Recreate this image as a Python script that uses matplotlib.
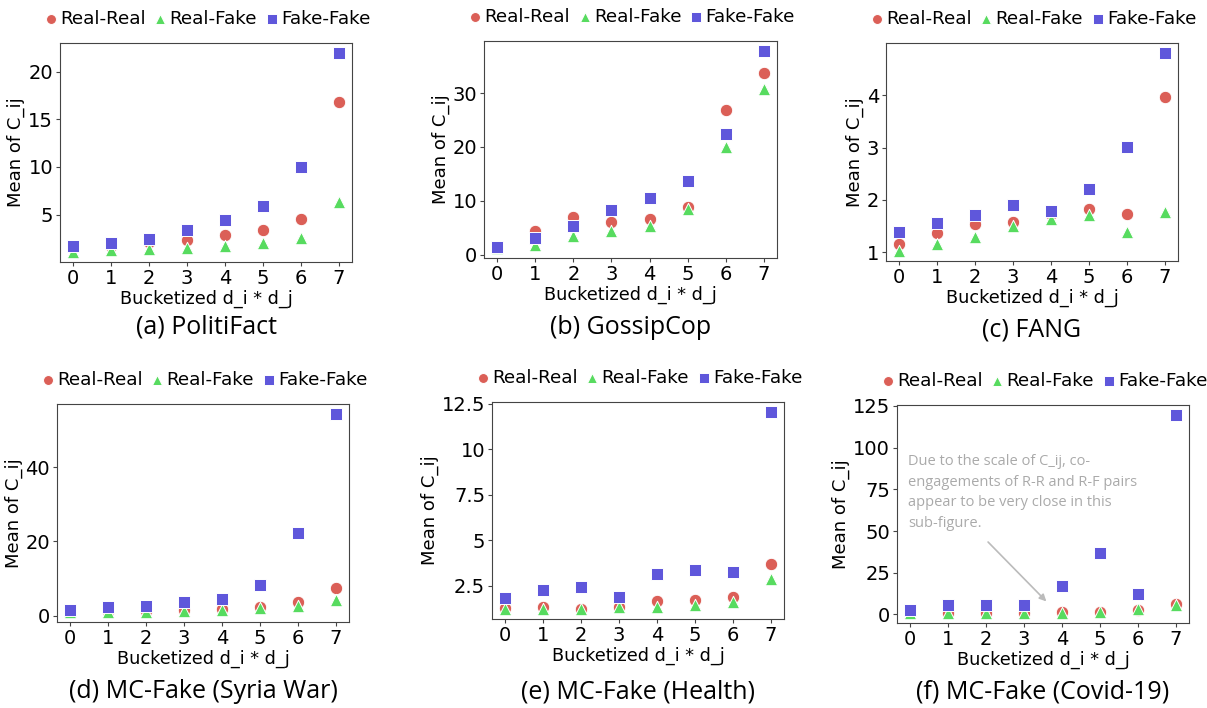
import matplotlib
matplotlib.use("Agg")
import matplotlib.pyplot as plt
from matplotlib.ticker import MultipleLocator, FormatStrFormatter
import numpy as np

# colours from the seaborn "hls" palette with 3 entries
c_rr = "#db5f57"
c_rf = "#57db5f"
c_ff = "#5f57db"

buckets = np.arange(8)

# (a) PolitiFact
pf_rr = [1.7, 1.65, 2.07, 2.28, 2.84, 3.4, 4.56, 16.8]
pf_rf = [1.05, 1.23, 1.37, 1.5, 1.65, 2.0, 2.5, 6.28]
pf_ff = [1.65, 2.03, 2.42, 3.37, 4.39, 5.86, 10.0, 22.0]

# (b) GossipCop
gc_rr = [1.3, 4.36, 7.06, 6.07, 6.69, 8.77, 26.8, 33.7]
gc_rf = [1.2, 1.84, 3.5, 4.36, 5.34, 8.4, 19.9, 30.7]
gc_ff = [1.41, 3.0, 5.4, 8.34, 10.6, 13.7, 22.4, 37.85]

# (c) FANG
fang_rr = [1.16, 1.36, 1.54, 1.57, 1.73, 1.83, 1.72, 3.97]
fang_rf = [1.02, 1.15, 1.29, 1.50, 1.64, 1.71, 1.38, 1.77]
fang_ff = [1.39, 1.56, 1.71, 1.90, 1.79, 2.21, 3.01, 4.81]

# (d) MC-Fake (Syria War)
syr_rr = [1.2, 1.26, 1.26, 1.43, 1.79, 2.5, 3.59, 7.44]
syr_rf = [1.0, 1.1, 1.15, 1.3, 1.5, 2.0, 2.7, 4.2]
syr_ff = [1.52, 2.33, 2.69, 3.77, 4.39, 8.25, 22.15, 54.3]

# (e) MC-Fake (Health)
hea_rr = [1.28, 1.32, 1.23, 1.34, 1.63, 1.68, 1.86, 3.67]
hea_rf = [1.2, 1.2, 1.2, 1.3, 1.32, 1.41, 1.61, 2.85]
hea_ff = [1.83, 2.23, 2.41, 1.85, 3.16, 3.34, 3.27, 12.05]

# (f) MC-Fake (Covid-19)
cov_rr = [1.0, 1.0, 1.0, 1.0, 1.2, 1.6, 2.4, 6.0]
cov_rf = [0.8, 0.9, 0.9, 0.9, 1.0, 1.3, 3.0, 5.8]
cov_ff = [2.4, 5.6, 5.8, 5.6, 17.0, 36.8, 12.4, 119.6]

panel_titles = ["(a) PolitiFact", "(b) GossipCop", "(c) FANG",
                "(d) MC-Fake (Syria War)", "(e) MC-Fake (Health)",
                "(f) MC-Fake (Covid-19)"]
series = [(pf_rr, pf_rf, pf_ff), (gc_rr, gc_rf, gc_ff), (fang_rr, fang_rf, fang_ff),
          (syr_rr, syr_rf, syr_ff), (hea_rr, hea_rf, hea_ff), (cov_rr, cov_rf, cov_ff)]
ytick_step = [5, 10, 1, 20, 2.5, 25]

note = ("Due to the scale of C_ij, co-\nengagements of R-R and R-F pairs\n"
        "appear to be very close in this\nsub-figure.")

W, H = 1207, 708
# axes boxes in pixels: left, right, top, bottom
boxes = [(60, 352, 43, 262), (484, 777, 41, 258), (886, 1178, 43, 261),
         (57, 349, 404, 622), (492, 784, 402, 619), (897, 1189, 405, 623)]
title_y = [327, 327, 330, 692, 692, 692]

fig = plt.figure(figsize=(W / 100, H / 100), dpi=100)

for i, (l, r, t, b) in enumerate(boxes):
    ax = fig.add_axes([l / W, (H - b) / H, (r - l) / W, (b - t) / H])
    rr, rf, ff = series[i]
    ax.scatter(buckets, rr, marker="o", s=80, color=c_rr, edgecolor="white", linewidth=0.7, label="Real-Real", zorder=3)
    ax.scatter(buckets, rf, marker="^", s=80, color=c_rf, edgecolor="white", linewidth=0.7, label="Real-Fake", zorder=3)
    ax.scatter(buckets, ff, marker="s", s=80, color=c_ff, edgecolor="white", linewidth=0.7, label="Fake-Fake", zorder=3)
    ax.set_xticks(buckets)
    ax.yaxis.set_major_locator(MultipleLocator(ytick_step[i]))
    if ytick_step[i] == 2.5:
        ax.yaxis.set_major_formatter(FormatStrFormatter("%g"))
    ax.tick_params(labelsize=14, length=3, color="#444444", pad=2)
    for sp in ax.spines.values():
        sp.set_color("#444444")
    ax.set_xlabel("Bucketized d_i * d_j", fontsize=12.7, labelpad=1)
    ax.set_ylabel("Mean of C_ij", fontsize=13, labelpad=2)
    ax.legend(loc="lower center", bbox_to_anchor=(0.5, 1.02), ncol=3, frameon=False,
              fontsize=13.2, handletextpad=0.0, columnspacing=0.3, borderaxespad=0.2,
              handlelength=1.0, markerscale=0.8)
    fig.text((l + r) / 2 / W, 1 - title_y[i] / H, panel_titles[i], ha="center", va="center",
             fontsize=18, family="Open Sans")
    if i == 5:
        ax.text(-0.05, 96, note, color="#aaaaaa", fontsize=10.5, family="Open Sans",
                va="top", ha="left", linespacing=1.5)
        ax.annotate("", xy=(3.64, 6.6), xytext=(2.0, 44.6),
                    arrowprops=dict(arrowstyle="-|>", color="#bbbbbb", lw=1.2))

fig.savefig("out.png", dpi=100)
